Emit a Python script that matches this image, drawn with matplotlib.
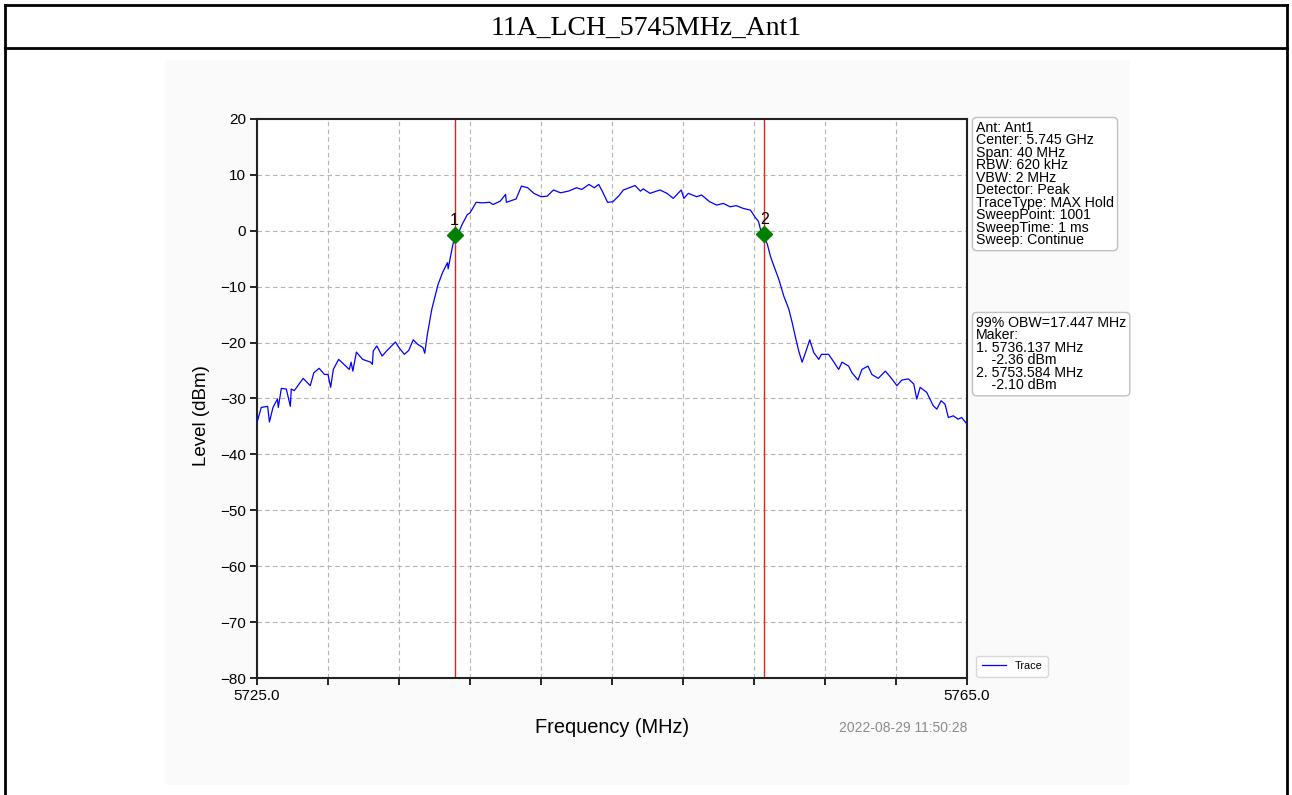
import matplotlib
matplotlib.use("Agg")
import matplotlib.pyplot as plt
from matplotlib.patches import Rectangle
from matplotlib.lines import Line2D

plt.rcParams['font.family'] = ['Liberation Sans', 'DejaVu Sans']

title = "11A_LCH_5745MHz_Ant1"

freq_mhz = [
    5725.0, 5725.24, 5725.6, 5725.7, 5725.9, 5726.15, 5726.2, 5726.37, 5726.65, 5726.88,
    5726.93, 5727.1, 5727.6, 5728.0, 5728.2, 5728.5, 5728.8, 5729.0, 5729.15, 5729.3,
    5729.6, 5730.0, 5730.2, 5730.3, 5730.4, 5730.6, 5730.95, 5731.4, 5731.5, 5731.55,
    5731.75, 5732.05, 5732.3, 5732.8, 5733.0, 5733.3, 5733.55, 5733.8, 5734.05, 5734.35,
    5734.45, 5734.6, 5734.85, 5735.2, 5735.45, 5735.73, 5735.77, 5736.0, 5736.14, 5736.35,
    5736.55, 5736.85, 5737.0, 5737.35, 5737.7, 5738.1, 5738.3, 5738.7, 5739.0, 5739.05,
    5739.6, 5739.9, 5740.25, 5740.6, 5741.0, 5741.35, 5741.7, 5742.1, 5742.55, 5743.0,
    5743.3, 5743.7, 5744.0, 5744.25, 5744.45, 5744.75, 5745.05, 5745.4, 5745.64, 5746.3,
    5746.6, 5746.76, 5747.14, 5747.7, 5748.1, 5748.45, 5748.9, 5749.05, 5749.3, 5749.77,
    5750.05, 5750.5, 5750.9, 5751.27, 5751.65, 5752.0, 5752.4, 5752.8, 5753.09, 5753.25,
    5753.37, 5753.56, 5753.75, 5753.93, 5754.12, 5754.4, 5754.68, 5754.96, 5755.15, 5755.34,
    5755.52, 5755.71, 5755.9, 5756.14, 5756.37, 5756.65, 5756.8, 5757.2, 5757.4, 5757.77,
    5757.96, 5758.33, 5758.52, 5758.86, 5759.08, 5759.42, 5759.64, 5760.0, 5760.4, 5760.77,
    5761.05, 5761.33, 5761.7, 5762.0, 5762.17, 5762.36, 5762.73, 5763.1, 5763.3, 5763.54,
    5763.76, 5763.95, 5764.23, 5764.5, 5764.7, 5765.0,
]

level_dbm = [
    -34.3, -31.6, -31.4, -34.2, -31.6, -30.1, -31.6, -28.2, -28.3, -31.4,
    -28.3, -28.6, -26.4, -27.7, -25.4, -24.6, -25.7, -25.7, -28.0, -24.8,
    -23.0, -24.2, -24.8, -23.5, -25.1, -21.7, -23.0, -23.5, -23.9, -21.5,
    -20.6, -22.4, -21.5, -19.9, -20.9, -22.1, -21.4, -19.5, -20.3, -20.9,
    -21.9, -18.5, -14.0, -9.6, -7.5, -5.7, -6.8, -3.0, -1.0, -0.4,
    1.1, 2.9, 3.2, 5.1, 5.0, 5.1, 4.7, 5.3, 6.5, 5.1,
    5.7, 8.0, 7.7, 6.7, 6.1, 6.2, 7.3, 6.8, 7.1, 7.7,
    7.4, 8.3, 7.7, 8.3, 7.1, 5.1, 5.2, 6.3, 7.3, 8.1,
    7.1, 7.5, 6.7, 7.3, 6.7, 5.8, 7.3, 5.8, 6.7, 6.1,
    6.4, 5.2, 4.6, 4.9, 4.3, 4.5, 4.0, 3.7, 2.3, 1.7,
    0.2, -1.0, -2.4, -4.6, -6.3, -8.7, -11.7, -14.0, -16.4, -19.1,
    -21.5, -23.5, -21.8, -19.5, -21.8, -23.0, -22.1, -22.1, -23.0, -24.8,
    -23.5, -24.2, -25.4, -26.7, -24.8, -24.2, -25.7, -26.4, -25.1, -26.5,
    -27.7, -26.7, -26.5, -27.4, -30.1, -28.0, -28.9, -31.3, -31.9, -30.4,
    -31.0, -33.4, -33.1, -33.7, -33.4, -34.6,
]

marker_labels = ["1", "2"]
marker_freq = [5736.137, 5753.584]
marker_level_plot = [-0.8, -0.6]

x_ticks = [5725, 5729, 5733, 5737, 5741, 5745, 5749, 5753, 5757, 5761, 5765]
x_tick_labels = ["5725.0", "", "", "", "", "", "", "", "", "", "5765.0"]
y_ticks = [20, 10, 0, -10, -20, -30, -40, -50, -60, -70, -80]

info_lines = ["Ant: Ant1", "Center: 5.745 GHz", "Span: 40 MHz", "RBW: 620 kHz",
              "VBW: 2 MHz", "Detector: Peak", "TraceType: MAX Hold",
              "SweepPoint: 1001", "SweepTime: 1 ms", "Sweep: Continue"]
obw_lines = ["99% OBW=17.447 MHz", "Maker:", "1. 5736.137 MHz", "    -2.36 dBm",
             "2. 5753.584 MHz", "    -2.10 dBm"]
timestamp = "2022-08-29 11:50:28"

W, H = 1292, 795
fig = plt.figure(figsize=(W / 100, H / 100), dpi=100)
fig.patch.set_facecolor("white")

def fx(px):
    return px / W

def fy(py):
    return 1 - py / H

# inner chart background
bg = Rectangle((fx(165), fy(785)), fx(1130) - fx(165), fy(60) - fy(785),
               transform=fig.transFigure, facecolor="#fafafa", edgecolor="none", zorder=-5)
fig.add_artist(bg)

# outer table frame
lw = 2.0
for (x0, y0, x1, y1) in [(5, 5, 1287, 5), (5, 48, 1287, 48), (5, 5, 5, 795), (1287, 5, 1287, 795)]:
    fig.add_artist(Line2D([fx(x0), fx(x1)], [fy(y0), fy(y1)], transform=fig.transFigure,
                          color="black", lw=lw, zorder=10))

fig.text(0.5, fy(28), title, ha="center", va="center", fontsize=20,
         family=["Liberation Serif", "DejaVu Serif"])

ax = fig.add_axes([fx(257), fy(678), fx(967) - fx(257), fy(119) - fy(678)])
ax.set_zorder(2)
ax.set_facecolor("white")
ax.plot(freq_mhz, level_dbm, color="#0000ff", lw=0.9, label="Trace", zorder=3)
for f in marker_freq:
    ax.axvline(f, color="#e8201a", lw=1.0, zorder=2)
for lab, f, lv in zip(marker_labels, marker_freq, marker_level_plot):
    ax.plot([f], [lv], marker="D", color="#008000", markersize=8, zorder=4)
    ax.text(f, lv + 1.3, lab, ha="center", va="bottom", fontsize=11.5, color="black", zorder=5)

ax.set_xlim(5725, 5765)
ax.set_ylim(-80, 20)
ax.set_xticks(x_ticks)
ax.set_xticklabels(x_tick_labels, fontsize=11)
ax.set_yticks(y_ticks)
ax.set_yticklabels([str(v).replace("-", "\u2212") for v in y_ticks], fontsize=11)
ax.grid(True, color="#b4b4b4", linestyle=(0, (4, 3)), lw=0.8)
ax.set_axisbelow(True)
for s in ax.spines.values():
    s.set_linewidth(1.5)
    s.set_color("#222222")
ax.tick_params(axis="both", length=5, width=1.2, direction="out", pad=3)
ax.set_xlabel("Frequency (MHz)", fontsize=14.4, labelpad=11)
ax.set_ylabel("Level (dBm)", fontsize=13.5, labelpad=6)
ax.yaxis.set_label_coords(-0.066, 0.47)

fig.text(fx(967), fy(728), timestamp, ha="right", va="center", fontsize=10, color="#8c8c8c")

box = dict(boxstyle="round,pad=0.25,rounding_size=0.3", facecolor="white", edgecolor="#c0c0c0", lw=1)
fig.text(fx(976), fy(121), "\n".join(info_lines), ha="left", va="top", fontsize=10.2,
         linespacing=0.86, bbox=box, zorder=6)
fig.text(fx(976), fy(316), "\n".join(obw_lines), ha="left", va="top", fontsize=10.2,
         linespacing=0.86, bbox=box, zorder=6)

leg = ax.legend(loc="lower left", bbox_to_anchor=(fx(971), fy(682)), bbox_transform=fig.transFigure,
                fontsize=7.8, frameon=True, handlelength=2.2, borderpad=0.5, fancybox=True)
leg.get_frame().set_edgecolor("#d0d0d0")

fig.savefig("out.png", dpi=100, facecolor="white")
